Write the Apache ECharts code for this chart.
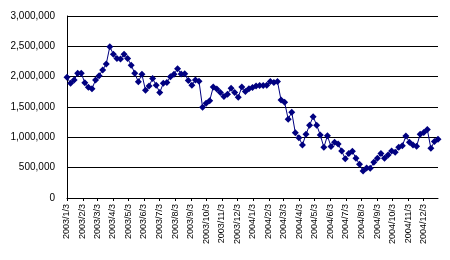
<!DOCTYPE html>
<html>
<head>
<meta charset="utf-8">
<script src="https://cdn.jsdelivr.net/npm/echarts@6/dist/echarts.min.js"></script>
<style>
html,body{margin:0;padding:0;background:#fff;}
#c{width:450px;height:260px;}
</style>
</head>
<body>
<div id="c"></div>
<script>
// first and last dates of the (daily) date axis; observations are weekly (every Friday)
var startDate = '2003/1/3';
var endDate = '2004/12/31';
var stepDays = 7;

// weekly values, 2003/1/3 .. 2004/12/31
var values = [
  1990000, 1890000, 1945000, 2055000, 2055000, 1900000, 1825000, 1800000, 1945000, 2016000,
  2110000, 2210000, 2494000, 2370000, 2300000, 2290000, 2370000, 2300000, 2190000, 2055000,
  1915000, 2040000, 1775000, 1845000, 1970000, 1860000, 1740000, 1890000, 1905000, 2000000,
  2040000, 2130000, 2045000, 2050000, 1935000, 1860000, 1945000, 1925000, 1495000, 1560000,
  1605000, 1830000, 1795000, 1740000, 1675000, 1710000, 1810000, 1740000, 1660000, 1830000,
  1755000, 1800000, 1820000, 1845000, 1855000, 1855000, 1860000, 1920000, 1905000, 1920000,
  1615000, 1580000, 1300000, 1415000, 1075000, 995000, 875000, 1050000, 1200000, 1340000,
  1200000, 1040000, 835000, 1025000, 850000, 920000, 890000, 775000, 645000, 735000,
  770000, 655000, 555000, 445000, 495000, 490000, 590000, 655000, 735000, 655000,
  710000, 775000, 755000, 835000, 860000, 1020000, 920000, 875000, 855000, 1050000,
  1080000, 1130000, 820000, 930000, 970000
];

// month tick labels on the date axis
var tickLabels = [
  '2003/1/3','2003/2/3','2003/3/3','2003/4/3','2003/5/3','2003/6/3',
  '2003/7/3','2003/8/3','2003/9/3','2003/10/3','2003/11/3','2003/12/3',
  '2004/1/3','2004/2/3','2004/3/3','2004/4/3','2004/5/3','2004/6/3',
  '2004/7/3','2004/8/3','2004/9/3','2004/10/3','2004/11/3','2004/12/3'
];

var yMin = 0, yMax = 3000000, yStep = 500000;

// build daily categories
function parse(s){ var p = s.split('/'); return Date.UTC(+p[0], +p[1]-1, +p[2]); }
function fmt(t){ var d = new Date(t); return d.getUTCFullYear() + '/' + (d.getUTCMonth()+1) + '/' + d.getUTCDate(); }
var days = [];
for (var t = parse(startDate); t <= parse(endDate); t += 86400000) days.push(fmt(t));

var seriesData = days.map(function(){ return null; });
values.forEach(function(v, i){ seriesData[i*stepDays] = v; });

var tickSet = {};
tickLabels.forEach(function(s){ tickSet[s] = true; });
function isTick(idx, val){ return !!tickSet[val]; }

var font = '"Liberation Sans", Arial, sans-serif';
var chart = echarts.init(document.getElementById('c'), null, {renderer:'canvas'});
chart.setOption({
  animation: false,
  backgroundColor: '#fff',
  grid: { left: 67, top: 16, width: 371, height: 182, containLabel: false },
  xAxis: {
    type: 'category',
    data: days,
    boundaryGap: false,
    axisLine: { show: true, lineStyle: { color: '#000', width: 1 } },
    axisTick: { show: true, interval: isTick, length: 3, lineStyle: { color: '#000' } },
    axisLabel: {
      interval: isTick, rotate: 90, margin: 6,
      color: '#000', fontSize: 9, fontFamily: font
    },
    splitLine: { show: false }
  },
  yAxis: {
    type: 'value',
    min: yMin, max: yMax, interval: yStep,
    axisLine: { show: true, lineStyle: { color: '#000', width: 1 } },
    axisTick: { show: false },
    axisLabel: {
      margin: 12, color: '#000', fontSize: 10, fontFamily: font,
      formatter: function(v){ return v.toString().replace(/\B(?=(\d{3})+(?!\d))/g, ','); }
    },
    splitLine: { show: true, lineStyle: { color: '#000', width: 1 } }
  },
  series: [{
    type: 'line',
    data: seriesData,
    connectNulls: true,
    showAllSymbol: true,
    symbol: 'diamond',
    symbolSize: 7,
    lineStyle: { color: '#000080', width: 1 },
    itemStyle: { color: '#000080', borderWidth: 0 }
  }]
});
</script>
</body>
</html>
